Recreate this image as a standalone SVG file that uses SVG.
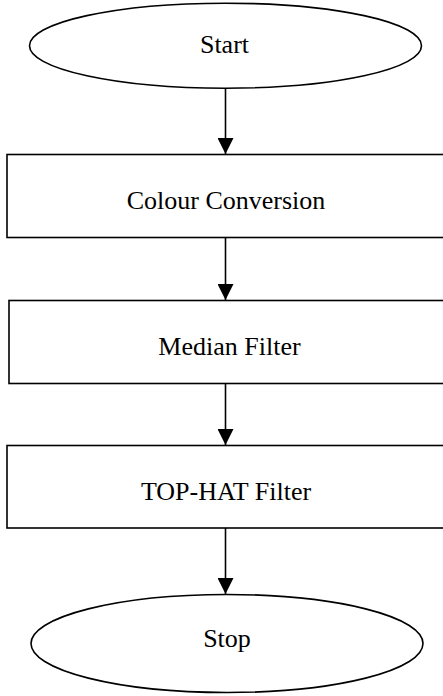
<svg xmlns="http://www.w3.org/2000/svg" width="443" height="696" viewBox="0 0 443 696">
<style>
.s{fill:#fff;stroke:#000;stroke-width:1.6}
.t{font-family:"Liberation Serif","Times New Roman",serif;font-size:26px;fill:#000;text-anchor:middle}
.c{stroke:#000;stroke-width:1.6;fill:none}
</style>
<defs>
<marker id="ah" markerWidth="16" markerHeight="16" viewBox="0 0 16 16" refX="16" refY="8" orient="auto" markerUnits="userSpaceOnUse">
<path d="M0,0 L16,8 L0,16 Z" fill="#000"/>
</marker>
</defs>
<rect width="443" height="696" fill="#fff"/>
<g id="start"><ellipse class="s" cx="225.5" cy="45.7" rx="196" ry="42.5"/><text class="t" x="224.5" y="53">Start</text></g>
<g id="colour"><rect class="s" x="7" y="154.5" width="445" height="83"/><text class="t" x="226" y="209">Colour Conversion</text></g>
<g id="median"><rect class="s" x="9" y="300.5" width="445" height="83"/><text class="t" x="229.5" y="355">Median Filter</text></g>
<g id="tophat"><rect class="s" x="7" y="445.5" width="445" height="82.5"/><text class="t" x="226" y="500">TOP-HAT Filter</text></g>
<g id="stop"><ellipse class="s" cx="227" cy="643.5" rx="196" ry="49"/><text class="t" x="227" y="647">Stop</text></g>
<g id="connectors">
<line class="c" x1="225.5" y1="88.2" x2="225.5" y2="154" marker-end="url(#ah)"/>
<line class="c" x1="225.5" y1="237.5" x2="225.5" y2="300" marker-end="url(#ah)"/>
<line class="c" x1="225.5" y1="383.5" x2="225.5" y2="445" marker-end="url(#ah)"/>
<line class="c" x1="225.5" y1="528" x2="225.5" y2="594" marker-end="url(#ah)"/>
</g>
</svg>
